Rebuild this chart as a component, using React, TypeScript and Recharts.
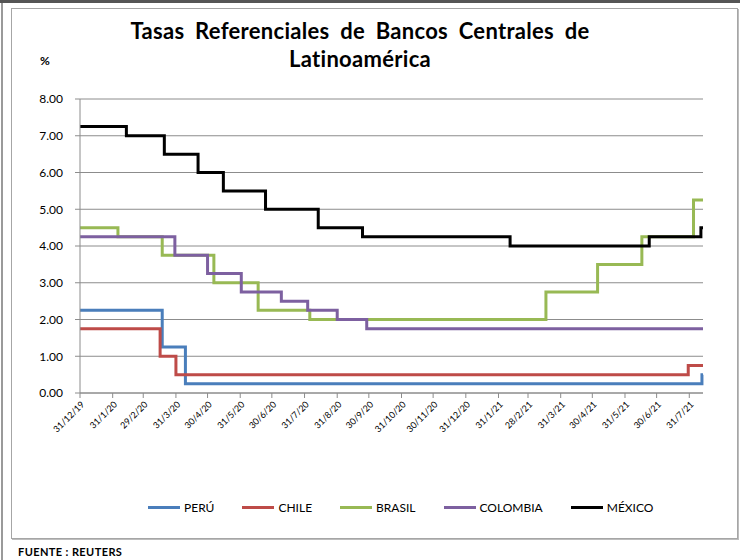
import { LineChart, Line, XAxis, YAxis, CartesianGrid } from 'recharts';

const START = '2019-12-31';
const END = '2021-08-13';

const peruDates = ['2019-12-31', '2020-03-18', '2020-04-09', '2021-08-12'];
const peruRates = [2.25, 1.25, 0.25, 0.5];

const chileDates = ['2019-12-31', '2020-03-16', '2020-03-31', '2021-07-30'];
const chileRates = [1.75, 1.0, 0.5, 0.75];

const brasilDates = [
  '2019-12-31', '2020-02-05', '2020-03-18', '2020-05-06', '2020-06-17',
  '2020-08-05', '2021-03-17', '2021-05-05', '2021-06-16', '2021-08-04',
];
const brasilRates = [4.5, 4.25, 3.75, 3.0, 2.25, 2.0, 2.75, 3.5, 4.25, 5.25];

const colombiaDates = [
  '2019-12-31', '2020-03-30', '2020-04-30', '2020-06-01', '2020-07-09',
  '2020-08-03', '2020-08-31', '2020-09-28',
];
const colombiaRates = [4.25, 3.75, 3.25, 2.75, 2.5, 2.25, 2.0, 1.75];

const mexicoDates = [
  '2019-12-31', '2020-02-13', '2020-03-20', '2020-04-21', '2020-05-15',
  '2020-06-24', '2020-08-13', '2020-09-24', '2021-02-11', '2021-06-23',
  '2021-08-11',
];
const mexicoRates = [7.25, 7.0, 6.5, 6.0, 5.5, 5.0, 4.5, 4.25, 4.0, 4.25, 4.5];

const tickDates = [
  '2019-12-31', '2020-01-31', '2020-02-29', '2020-03-31', '2020-04-30',
  '2020-05-31', '2020-06-30', '2020-07-31', '2020-08-31', '2020-09-30',
  '2020-10-31', '2020-11-30', '2020-12-31', '2021-01-31', '2021-02-28',
  '2021-03-31', '2021-04-30', '2021-05-31', '2021-06-30', '2021-07-31',
];
const yTicks = [0, 1, 2, 3, 4, 5, 6, 7, 8];

const series = [
  { key: 'peru', name: 'PERÚ', color: '#4a7ebb', dates: peruDates, rates: peruRates },
  { key: 'chile', name: 'CHILE', color: '#be4b48', dates: chileDates, rates: chileRates },
  { key: 'brasil', name: 'BRASIL', color: '#98b954', dates: brasilDates, rates: brasilRates },
  { key: 'colombia', name: 'COLOMBIA', color: '#7d60a0', dates: colombiaDates, rates: colombiaRates },
  { key: 'mexico', name: 'MÉXICO', color: '#000000', dates: mexicoDates, rates: mexicoRates },
];

const toUtc = (s: string) => {
  const [y, m, d] = s.split('-').map(Number);
  return Date.UTC(y, m - 1, d);
};
const dayOf = (s: string) => Math.round((toUtc(s) - toUtc(START)) / 86400000);

const endDay = dayOf(END);
const allDays = Array.from(
  new Set([...series.flatMap((s) => s.dates.map(dayOf)), endDay]),
).sort((a, b) => a - b);

// step table: each series holds its last rate until the next change
const rows = allDays.map((t) => {
  const row: Record<string, number> = { t };
  series.forEach((s) => {
    let v = s.rates[0];
    s.dates.forEach((d, i) => {
      if (dayOf(d) <= t) v = s.rates[i];
    });
    row[s.key] = v;
  });
  return row;
});

const tickDays = tickDates.map(dayOf);
const labelOf: Record<number, string> = {};
tickDates.forEach((d) => {
  const [y, m, dd] = d.split('-').map(Number);
  labelOf[dayOf(d)] = `${dd}/${m}/${String(y).slice(2)}`;
});

const FONT = 'Lato, "Liberation Sans", sans-serif';

function XTick({ x, y, payload }: any) {
  return (
    <g transform={`translate(${x + 5},${y + 5})`}>
      <text
        x={0}
        y={0}
        transform="rotate(-45)"
        textAnchor="end"
        fontSize={9}
        fontFamily={FONT}
        fill="#000"
      >
        {labelOf[payload.value]}
      </text>
    </g>
  );
}

export default function App() {
  return (
    <div
      style={{
        position: 'absolute',
        left: 0,
        top: 0,
        width: 740,
        height: 560,
        overflow: 'hidden',
        background: '#fff',
        fontFamily: FONT,
      }}
    >
      <div style={{ position: 'absolute', left: 0, top: 0, width: 740, height: 3, background: '#555' }} />
      <div style={{ position: 'absolute', left: 1, top: 3, width: 2, height: 557, background: '#9a9a9a' }} />
      <div
        style={{
          position: 'absolute',
          left: 11,
          top: 8,
          width: 725,
          height: 529,
          border: '1px solid #a6a6a6',
          boxShadow: '1px 1px 0 #bdbdbd',
        }}
      />
      <div
        style={{
          position: 'absolute',
          left: 0,
          top: 17,
          width: 720,
          textAlign: 'center',
          fontSize: 22,
          lineHeight: '28px',
          fontWeight: 700,
          letterSpacing: 0.3,
          wordSpacing: 5,
          color: '#000',
        }}
      >
        Tasas Referenciales de Bancos Centrales de
        <br />
        Latinoamérica
      </div>
      <div style={{ position: 'absolute', left: 40, top: 53, fontSize: 12, fontWeight: 700 }}>%</div>

      <div style={{ position: 'absolute', left: 0, top: 0 }}>
        <LineChart
          width={740}
          height={560}
          data={rows}
          margin={{ top: 99, right: 37, bottom: 117, left: 20 }}
        >
          <CartesianGrid vertical={false} stroke="#8c8c8c" />
          <XAxis
            dataKey="t"
            type="number"
            domain={[0, endDay]}
            ticks={tickDays}
            interval={0}
            height={50}
            tickSize={5}
            tickMargin={2}
            stroke="#8c8c8c"
            tick={<XTick />}
          />
          <YAxis
            type="number"
            domain={[0, 8]}
            ticks={yTicks}
            width={60}
            tickSize={5}
            tickMargin={12}
            stroke="#8c8c8c"
            tick={{ fontSize: 12, fill: '#000', fontFamily: FONT }}
            tickFormatter={(v: number) => v.toFixed(2)}
          />
          {series.map((s) => (
            <Line
              key={s.key}
              type="stepAfter"
              dataKey={s.key}
              name={s.name}
              stroke={s.color}
              strokeWidth={3}
              dot={false}
              activeDot={false}
              isAnimationActive={false}
            />
          ))}
        </LineChart>
      </div>

      <div
        style={{
          position: 'absolute',
          left: 148,
          top: 500,
          display: 'flex',
          alignItems: 'center',
          gap: 28,
          fontSize: 12,
          color: '#000',
        }}
      >
        {series.map((s) => (
          <div key={s.key} style={{ display: 'flex', alignItems: 'center' }}>
            <div style={{ width: 32, height: 3, background: s.color, marginRight: 4 }} />
            <span>{s.name}</span>
          </div>
        ))}
      </div>

      <div
        style={{
          position: 'absolute',
          left: 18,
          top: 545,
          fontSize: 11,
          fontWeight: 700,
          letterSpacing: 0.4,
        }}
      >
        FUENTE :  REUTERS
      </div>
    </div>
  );
}
